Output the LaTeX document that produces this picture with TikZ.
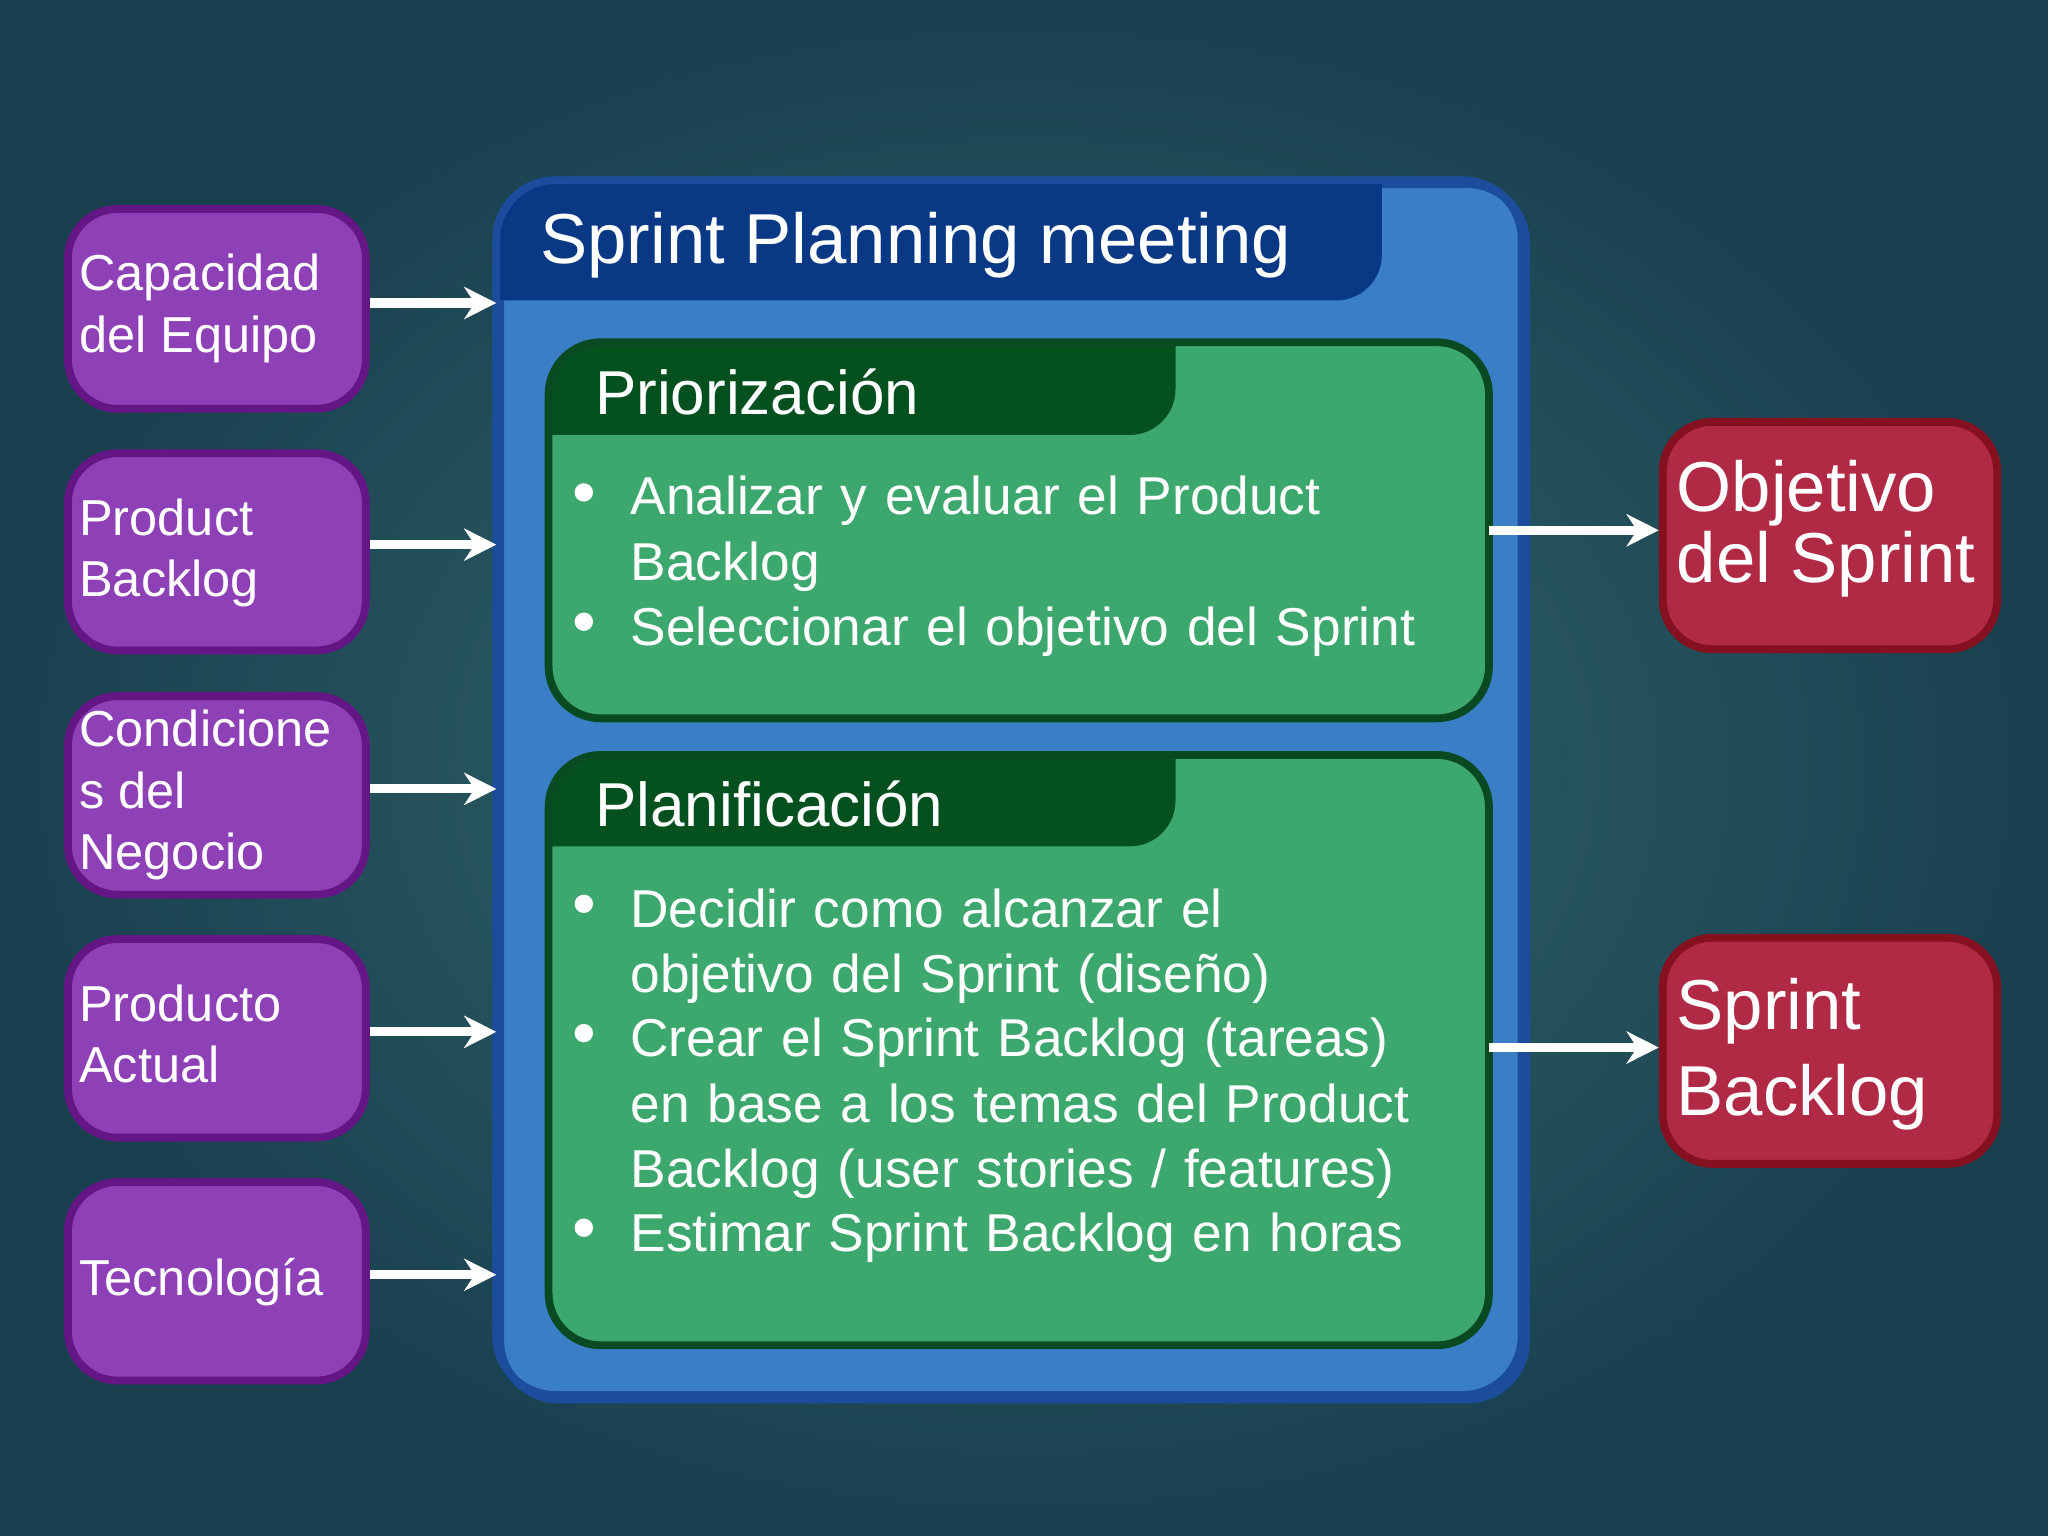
\documentclass[tikz,border=0pt]{standalone}
\usepackage{fontspec}
\setmainfont{Liberation Sans}
\usetikzlibrary{arrows.meta}
\begin{document}
\begin{tikzpicture}[x=0.01cm,y=-0.01cm,
  lbox/.style={draw=purpleE,line width=1.7pt,fill=purpleF,rounded corners=0.38cm},
  rbox/.style={draw=redE,line width=1.7pt,fill=redF,rounded corners=0.38cm},
  arr/.style={draw=white,line width=2pt,-{Stealth[length=7pt,width=7pt]}},
  ltxt/.style={anchor=north west,inner sep=0,align=left,text=white,font=\fontsize{11pt}{13.4pt}\selectfont},
  btxt/.style={anchor=north west,inner sep=0,align=left,text=white,text width=6.6cm,font=\fontsize{11.6pt}{14.2pt}\selectfont},
  bul/.style={fill=white,circle,inner sep=0,minimum size=4pt}]
\definecolor{bgin}{HTML}{32696B}
\definecolor{bgout}{HTML}{1A4050}
\definecolor{purpleF}{HTML}{8E40B6}
\definecolor{purpleE}{HTML}{651685}
\definecolor{redF}{HTML}{B02A45}
\definecolor{redE}{HTML}{85101F}
\definecolor{blueF}{HTML}{3A7EC6}
\definecolor{blueE}{HTML}{1C4D9C}
\definecolor{navy}{HTML}{093985}
\definecolor{greenF}{HTML}{3DA86D}
\definecolor{greenE}{HTML}{0A4A22}
\definecolor{greenD}{HTML}{04501F}
\shade[inner color=bgin,outer color=bgout] (0,0) rectangle (1568,1176);
\useasboundingbox (0,0) rectangle (1568,1176);
% blue main box
\node[draw=blueE,line width=1.7pt,fill=blueF,rounded corners=0.45cm,minimum width=7.85cm,minimum height=9.3cm,anchor=north west] (main) at (380,138) {};
\begin{scope}
\clip[rounded corners=0.45cm] (380,138) rectangle (1165,1068);
\fill[navy] (370,128) -- (1058,128) -- (1058,195) arc[start angle=0,end angle=-90,radius=0.35cm] -- (370,230) -- cycle;
\end{scope}
\draw[blueE,line width=1.7pt,rounded corners=0.45cm] (380,138) rectangle (1165,1068);
\node[anchor=base west,inner sep=0,text=white,font=\fontsize{15.4pt}{17pt}\selectfont] (title) at (413,202) {Sprint Planning meeting};
% green boxes
\foreach \ya/\yb/\yt/\nm in {262/550/333/g1,578/1030/648/g2}{
  \begin{scope}
  \clip[rounded corners=0.4cm] (420,\ya) rectangle (1140,\yb);
  \fill[greenF] (420,\ya) rectangle (1140,\yb);
  \fill[greenD] (410,\ya-10) -- (900,\ya-10) -- (900,\yt-35) arc[start angle=0,end angle=-90,radius=0.35cm] -- (410,\yt) -- cycle;
  \end{scope}
  \draw[greenE,line width=1.7pt,rounded corners=0.4cm] (420,\ya) rectangle (1140,\yb);
  \coordinate (\nm) at (1140,\ya);
}
\node[anchor=base west,inner sep=0,text=white,font=\fontsize{13.5pt}{15pt}\selectfont] (h1) at (455,317) {Priorización};
\node[anchor=base west,inner sep=0,text=white,font=\fontsize{13.5pt}{15pt}\selectfont] (h2) at (455,633) {Planificación};
% bullets
\foreach \y in {377,476,692,791,940} \node[bul] at (447,\y) {};
\node[btxt] (p1) at (482,364) {Analizar y evaluar el Product\\Backlog};
\node[btxt] (p2) at (482,464) {Seleccionar el objetivo del Sprint};
\node[btxt] (q1) at (482,680) {Decidir como alcanzar el\\objetivo del Sprint (diseño)};
\node[btxt] (q2) at (482,779) {Crear el Sprint Backlog (tareas)\\en base a los temas del Product\\Backlog (user stories / features)};
\node[btxt] (q3) at (482,928) {Estimar Sprint Backlog en horas};
% left boxes
\foreach \ya/\yb/\nm in {155/312/l1,342/497/l2,528/684/l3,714/870/l4,900/1056/l5}{
  \node[lbox,minimum width=2.28cm,minimum height={(\yb-\ya)*0.01cm-0.04cm},anchor=north west] (\nm) at (49,\ya+2) {};
}
\node[ltxt] at (60,194) {Capacidad\\del Equipo};
\node[ltxt] at (60,381) {Product\\Backlog};
\node[ltxt] at (60,543) {Condicione\\s del\\Negocio};
\node[ltxt] at (60,753) {Producto\\Actual};
\node[ltxt] at (60,963) {Tecnología};
\coordinate (a1) at (380,232);
\coordinate (a2) at (380,417);
\coordinate (a3) at (380,604);
\coordinate (a4) at (380,790);
\coordinate (a5) at (380,976);
\draw[arr] (l1.east |- a1) -- (a1);
\draw[arr] (l2.east |- a2) -- (a2);
\draw[arr] (l3.east |- a3) -- (a3);
\draw[arr] (l4.east |- a4) -- (a4);
\draw[arr] (l5.east |- a5) -- (a5);
% right boxes
\node[rbox,minimum width=2.56cm,minimum height=1.74cm,anchor=north west] (r1) at (1270,320) {};
\node[rbox,minimum width=2.56cm,minimum height=1.73cm,anchor=north west] (r2) at (1270,715) {};
\node[anchor=north west,inner sep=0,align=left,text=white,font=\fontsize{15.4pt}{14.2pt}\selectfont] at (1283,352) {Objetivo\\del Sprint};
\node[anchor=north west,inner sep=0,align=left,text=white,font=\fontsize{15.4pt}{18.8pt}\selectfont] at (1283,748) {Sprint\\Backlog};
\coordinate (b1) at (1140,406);
\coordinate (b2) at (1140,802);
\draw[arr] (b1) -- (r1.west |- b1);
\draw[arr] (b2) -- (r2.west |- b2);
\end{tikzpicture}
\end{document}
